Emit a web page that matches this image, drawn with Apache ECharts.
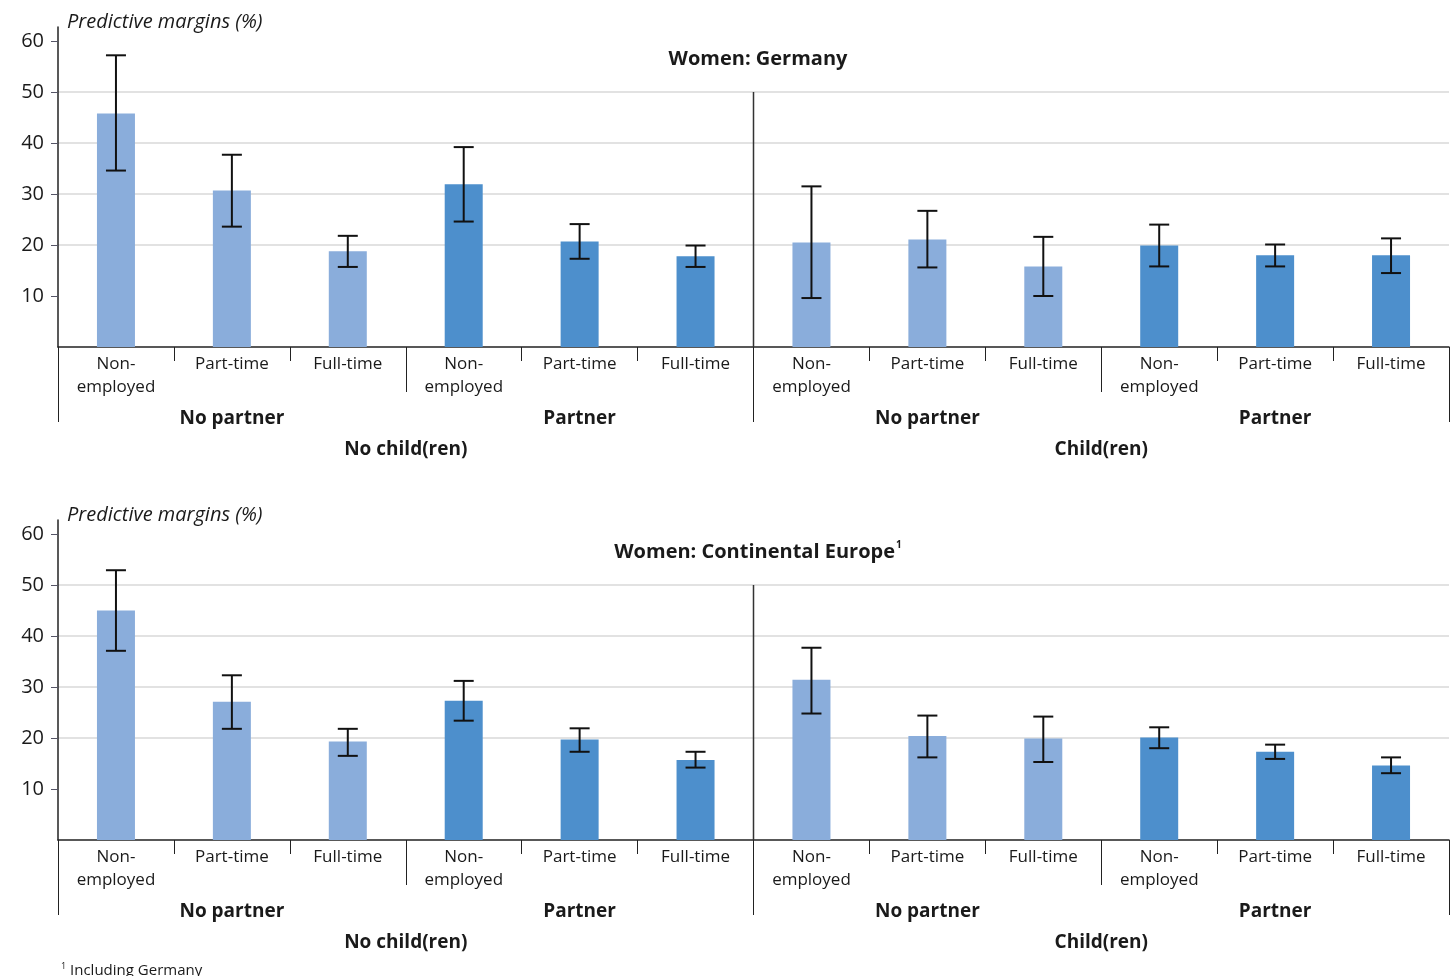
<!DOCTYPE html>
<html>
<head>
<meta charset="utf-8">
<script src="https://cdn.jsdelivr.net/npm/echarts@6/dist/echarts.min.js"></script>
<style>
  html, body { margin: 0; padding: 0; background: #fff; }
  #chart { width: 1450px; height: 976px; }
</style>
</head>
<body>
<div id="chart"></div>
<script>
// Category levels (innermost to outermost)
const employment = [
  'Non-\nemployed', 'Part-time', 'Full-time', 'Non-\nemployed', 'Part-time', 'Full-time',
  'Non-\nemployed', 'Part-time', 'Full-time', 'Non-\nemployed', 'Part-time', 'Full-time'
];
const partnerGroups = ['No partner', 'Partner', 'No partner', 'Partner'];
const childGroups = ['No child(ren)', 'Child(ren)'];
const yTicks = [10, 20, 30, 40, 50, 60];

// Women: Germany — predictive margins (%) with confidence bounds
const germanyMargin = [45.8, 30.7, 18.8, 31.9, 20.7, 17.8, 20.5, 21.1, 15.8, 19.9, 18.0, 18.0];
const germanyLow    = [34.6, 23.6, 15.7, 24.6, 17.3, 15.7,  9.6, 15.6, 10.0, 15.8, 15.8, 14.5];
const germanyHigh   = [57.2, 37.7, 21.8, 39.2, 24.1, 19.9, 31.5, 26.7, 21.6, 24.0, 20.1, 21.3];

// Women: Continental Europe (incl. Germany)
const europeMargin = [45.0, 27.1, 19.3, 27.3, 19.7, 15.7, 31.4, 20.4, 19.9, 20.1, 17.3, 14.6];
const europeLow    = [37.1, 21.8, 16.5, 23.4, 17.3, 14.2, 24.8, 16.2, 15.3, 18.0, 15.9, 13.1];
const europeHigh   = [52.9, 32.3, 21.8, 31.2, 21.9, 17.3, 37.7, 24.4, 24.2, 22.1, 18.7, 16.2];

// Separator between the "No child(ren)" and "Child(ren)" blocks: x position (in category units) and height
const separatorAt = 6;
const separatorTop = 50;

const FONT = 'Open Sans';
const TEXT = '#1a1a1a';
const LIGHT = '#8aaddb';
const DARK = '#4d8fcc';
const Y_MAX = 62.75;

const panels = [
  { title: 'Women: Germany', mean: germanyMargin, low: germanyLow, high: germanyHigh, top: 27 },
  { title: 'Women: Continental Europe{sup|1}', mean: europeMargin, low: europeLow, high: europeHigh, top: 520 }
];
const PLOT_H = 320;

const grids = [], xAxes = [], yAxes = [], series = [], titles = [];

panels.forEach((p, k) => {
  grids.push({ left: 58, right: 1, top: p.top, height: PLOT_H, containLabel: false });

  const base = k * 4;
  // employment level
  xAxes.push({
    type: 'category', gridIndex: k, position: 'bottom', data: employment,
    axisLine: { show: true, lineStyle: { color: '#222', width: 1.5 } },
    axisTick: { show: true, length: 14, lineStyle: { color: '#222', width: 1 } },
    axisLabel: { interval: 0, margin: 6, fontFamily: FONT, fontSize: 17, lineHeight: 23, color: TEXT }
  });
  // partner level
  xAxes.push({
    type: 'category', gridIndex: k, position: 'bottom', data: partnerGroups,
    axisLine: { show: false },
    axisTick: { show: true, length: 45, lineStyle: { color: '#222', width: 1 } },
    axisLabel: { interval: 0, margin: 60, fontFamily: FONT, fontSize: 19, lineHeight: 24, fontWeight: 'bold', color: TEXT }
  });
  // children level
  xAxes.push({
    type: 'category', gridIndex: k, position: 'bottom', data: childGroups,
    axisLine: { show: false },
    axisTick: { show: true, length: 75, lineStyle: { color: '#222', width: 1 } },
    axisLabel: { interval: 0, margin: 91, fontFamily: FONT, fontSize: 19, lineHeight: 24, fontWeight: 'bold', color: TEXT }
  });
  // continuous helper axis for the block separator
  xAxes.push({ type: 'value', gridIndex: k, position: 'top', min: 0, max: employment.length, show: false });

  yAxes.push({
    type: 'value', gridIndex: k, min: 0, max: Y_MAX, interval: 10,
    axisLine: { show: true, lineStyle: { color: '#222', width: 1.5 } },
    axisTick: { show: true, length: 7, customValues: yTicks, lineStyle: { color: '#556' } },
    axisLabel: {
      customValues: yTicks, margin: 14, fontFamily: FONT, fontSize: 20, color: TEXT,
      formatter: v => (v > 0 && v % 10 === 0) ? String(v) : ''
    },
    splitLine: { show: true, showMinLine: false, showMaxLine: false, lineStyle: { color: '#d9d9d9', width: 1.5 } }
  });

  series.push({
    type: 'bar', xAxisIndex: base, yAxisIndex: k, barWidth: 38,
    data: p.mean.map((v, i) => ({
      value: v,
      itemStyle: { color: Math.floor(i / 3) % 2 === 0 ? LIGHT : DARK }
    })),
    silent: true, z: 2
  });

  series.push({
    type: 'custom', xAxisIndex: base, yAxisIndex: k, z: 5, silent: true,
    encode: { x: 0, y: [1, 2] },
    data: p.mean.map((_, i) => [i, p.low[i], p.high[i]]),
    renderItem(params, api) {
      const i = api.value(0);
      const hi = api.coord([i, api.value(2)]);
      const lo = api.coord([i, api.value(1)]);
      const half = 10;
      const st = { stroke: '#111', lineWidth: 2 };
      return {
        type: 'group',
        children: [
          { type: 'line', shape: { x1: hi[0], y1: hi[1], x2: lo[0], y2: lo[1] }, style: st },
          { type: 'line', shape: { x1: hi[0] - half, y1: hi[1], x2: hi[0] + half, y2: hi[1] }, style: st },
          { type: 'line', shape: { x1: lo[0] - half, y1: lo[1], x2: lo[0] + half, y2: lo[1] }, style: st }
        ]
      };
    }
  });

  series.push({
    type: 'line', xAxisIndex: base + 3, yAxisIndex: k, silent: true, z: 3,
    symbol: 'none', animation: false,
    lineStyle: { color: '#333', width: 1.5 },
    data: [[separatorAt, 0], [separatorAt, separatorTop]]
  });

  titles.push({
    text: p.title, left: 753, top: p.top + 15, textAlign: 'center',
    textStyle: {
      fontFamily: FONT, fontSize: 20, fontWeight: 'bold', color: TEXT, lineHeight: 24,
      rich: { sup: { fontFamily: FONT, fontSize: 10, fontWeight: 'bold', color: TEXT, lineHeight: 24, verticalAlign: 'top', padding: [0, 0, 10, 1] } }
    }
  });
  titles.push({
    text: 'Predictive margins (%)', left: 62, top: p.top - 22,
    textStyle: { fontFamily: FONT, fontSize: 20, fontStyle: 'italic', fontWeight: 'normal', color: TEXT, lineHeight: 24 }
  });
});

titles.push({
  text: '{sup|1} Including Germany', left: 56, top: 957,
  textStyle: {
    fontFamily: FONT, fontSize: 15, fontWeight: 'normal', color: TEXT, lineHeight: 18,
    rich: { sup: { fontFamily: FONT, fontSize: 9, color: TEXT, lineHeight: 18, verticalAlign: 'top', padding: [0, 0, 6, 0] } }
  }
});

const chart = echarts.init(document.getElementById('chart'), null, { renderer: 'canvas' });
chart.setOption({
  animation: false,
  backgroundColor: '#fff',
  title: titles,
  grid: grids,
  xAxis: xAxes,
  yAxis: yAxes,
  series: series
});
</script>
</body>
</html>
